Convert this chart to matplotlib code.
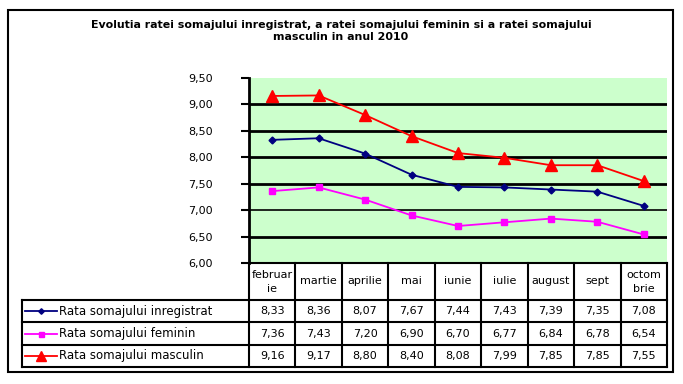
import numpy as np
import matplotlib.pyplot as plt
from matplotlib.patches import Rectangle
from matplotlib.lines import Line2D

plt.rcParams['font.family'] = ['DejaVu Sans']

title = ('Evolutia ratei somajului inregistrat, a ratei somajului feminin si a ratei somajului\n'
         'masculin in anul 2010')
months = ['februar\nie', 'martie', 'aprilie', 'mai', 'iunie', 'iulie', 'august', 'sept', 'octom\nbrie']
series_names = ['Rata somajului inregistrat', 'Rata somajului feminin', 'Rata somajului masculin']
rata_inregistrat = [8.33, 8.36, 8.07, 7.67, 7.44, 7.43, 7.39, 7.35, 7.08]
rata_feminin = [7.36, 7.43, 7.20, 6.90, 6.70, 6.77, 6.84, 6.78, 6.54]
rata_masculin = [9.16, 9.17, 8.80, 8.40, 8.08, 7.99, 7.85, 7.85, 7.55]
y_ticks = [6.0, 6.5, 7.0, 7.5, 8.0, 8.5, 9.0, 9.5]

W, H = 683, 384
fig = plt.figure(figsize=(W / 100, H / 100), dpi=100)
fig.patch.set_facecolor('white')

# outer chart border
fig.add_artist(Rectangle((8 / W, 1 - 372 / H), 665 / W, 362 / H, transform=fig.transFigure,
                         fill=False, edgecolor='black', linewidth=1.5))

ax_l, ax_r, ax_t, ax_b = 249, 667, 78, 263
ax = fig.add_axes([ax_l / W, 1 - ax_b / H, (ax_r - ax_l) / W, (ax_b - ax_t) / H])
ax.set_facecolor('#ccffcc')

fig.text(341 / W, 1 - 31 / H, title, ha='center', va='center', fontsize=7.9,
         fontweight='bold', linespacing=1.35)

x = np.arange(len(months))
styles = [
    dict(color='#000080', marker='D', markersize=3.5, linewidth=1.3),
    dict(color='#ff00ff', marker='s', markersize=4.5, linewidth=1.3),
    dict(color='#ff0000', marker='^', markersize=9, linewidth=1.3),
]
data = [rata_inregistrat, rata_feminin, rata_masculin]
for vals, st in zip(data, styles):
    ax.plot(x, vals, markeredgecolor=st['color'], zorder=3, **st)

for yv in y_ticks[1:-1]:
    ax.axhline(yv, color='black', linewidth=2 if yv != 7.0 else 1.2, zorder=1)

ax.set_xlim(-0.5, len(months) - 0.5)
ax.set_ylim(6.0, 9.5)
ax.set_yticks(y_ticks)
ax.set_yticklabels([f'{v:.2f}'.replace('.', ',') for v in y_ticks], fontsize=8)
ax.tick_params(axis='y', length=6, width=1.5, pad=20, direction='out')
ax.set_xticks([])
for s in ['top', 'right', 'bottom']:
    ax.spines[s].set_visible(False)
ax.spines['left'].set_linewidth(2)

# data table below the plot
px = ax_b - ax_t
ax_w = ax_r - ax_l
def yf(py):
    return (ax_b - py) / px
row_edges = [yf(263), yf(300), yf(322), yf(345), yf(367)]
left_x = (22 - ax_l) / ax_w
xt = ax.get_xaxis_transform()
tr = ax.transAxes

lw = 1.5
# horizontal lines
ax.plot([-0.5, len(months) - 0.5], [row_edges[0]] * 2, transform=xt, color='black', lw=lw, clip_on=False)
for r in row_edges[1:]:
    ax.plot([left_x, 1], [r, r], transform=tr, color='black', lw=lw, clip_on=False)
# vertical lines
for i in range(len(months) + 1):
    ax.plot([i - 0.5, i - 0.5], [row_edges[0], row_edges[-1]], transform=xt,
            color='black', lw=lw, clip_on=False)
ax.plot([left_x, left_x], [row_edges[1], row_edges[-1]], transform=tr, color='black', lw=lw, clip_on=False)

for i, m in enumerate(months):
    ax.text(i, (row_edges[0] + row_edges[1]) / 2, m, transform=xt, ha='center', va='center',
            fontsize=8, linespacing=1.5)

for r, (name, vals, st) in enumerate(zip(series_names, data, styles)):
    yc = (row_edges[r + 1] + row_edges[r + 2]) / 2
    for i, v in enumerate(vals):
        ax.text(i, yc, f'{v:.2f}'.replace('.', ','), transform=xt, ha='center', va='center', fontsize=8)
    lx0 = left_x + 3 / ax_w
    lx1 = left_x + 35 / ax_w
    ax.add_line(Line2D([lx0, lx1], [yc, yc], transform=tr, color=st['color'], lw=1.3, clip_on=False))
    ax.add_line(Line2D([(lx0 + lx1) / 2], [yc], transform=tr, color=st['color'], marker=st['marker'],
                       markersize=st['markersize'] * 0.8, markeredgecolor=st['color'], clip_on=False))
    ax.text(left_x + 37 / ax_w, yc, name, transform=tr, ha='left', va='center', fontsize=8.5)

fig.savefig('out.png', dpi=100)
